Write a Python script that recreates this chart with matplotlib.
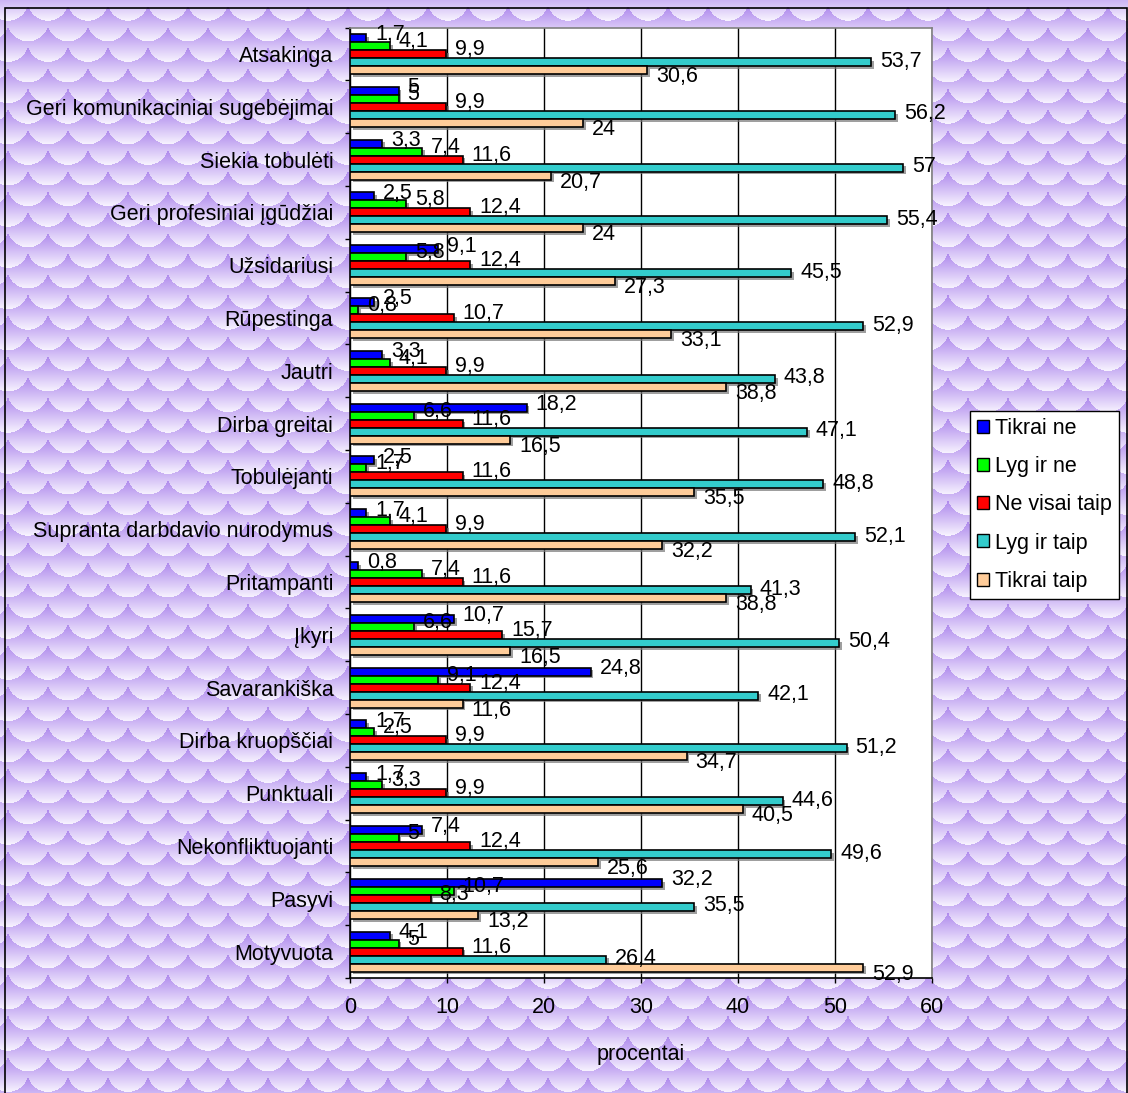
import numpy as np
import matplotlib
matplotlib.use('Agg')
import matplotlib.pyplot as plt
from matplotlib.patches import Patch, Rectangle
from matplotlib import patheffects

plt.rcParams['font.family'] = ['Liberation Sans', 'DejaVu Sans']

categories = ['Atsakinga', 'Geri komunikaciniai sugebėjimai', 'Siekia tobulėti',
              'Geri profesiniai įgūdžiai', 'Užsidariusi', 'Rūpestinga', 'Jautri',
              'Dirba greitai', 'Tobulėjanti', 'Supranta darbdavio nurodymus',
              'Pritampanti', 'Įkyri', 'Savarankiška', 'Dirba kruopščiai',
              'Punktuali', 'Nekonfliktuojanti', 'Pasyvi', 'Motyvuota']

tikrai_ne = [1.7, 5, 3.3, 2.5, 9.1, 2.5, 3.3, 18.2, 2.5, 1.7, 0.8, 10.7, 24.8, 1.7, 1.7, 7.4, 32.2, 4.1]
lyg_ir_ne = [4.1, 5, 7.4, 5.8, 5.8, 0.8, 4.1, 6.6, 1.7, 4.1, 7.4, 6.6, 9.1, 2.5, 3.3, 5, 10.7, 5]
ne_visai_taip = [9.9, 9.9, 11.6, 12.4, 12.4, 10.7, 9.9, 11.6, 11.6, 9.9, 11.6, 15.7, 12.4, 9.9, 9.9, 12.4, 8.3, 11.6]
lyg_ir_taip = [53.7, 56.2, 57, 55.4, 45.5, 52.9, 43.8, 47.1, 48.8, 52.1, 41.3, 50.4, 42.1, 51.2, 44.6, 49.6, 35.5, 26.4]
tikrai_taip = [30.6, 24, 20.7, 24, 27.3, 33.1, 38.8, 16.5, 35.5, 32.2, 38.8, 16.5, 11.6, 34.7, 40.5, 25.6, 13.2, 52.9]

series_names = ['Tikrai ne', 'Lyg ir ne', 'Ne visai taip', 'Lyg ir taip', 'Tikrai taip']
series = [tikrai_ne, lyg_ir_ne, ne_visai_taip, lyg_ir_taip, tikrai_taip]
colors = ['#0000ff', '#00ff00', '#ff0000', '#33cccc', '#ffcc99']
# vertical nudge of the value labels per series, pixels
label_dy = [3, 4.5, 4.5, 1, -6.5]

W, H = 1128, 1093
FS = 15.5


# fish-scale texture: rows of discs, upper rows drawn over lower ones,
# each disc shaded from purple at the top to near white at the bottom
def scales(w, h, dx=40.0, dy=20.6, r=20.7):
    yy, xx = np.mgrid[0:h, 0:w] + 0.5
    t = np.full((h, w), np.nan)
    rmin = np.ceil((yy - r) / dy)
    for k in range(3):
        row = rmin + k
        cy = row * dy
        ox = (row % 2) * dx / 2 + 8
        cx = ox + np.round((xx - ox) / dx) * dx
        inside = ((xx - cx) ** 2 + (yy - cy) ** 2 <= r * r) & np.isnan(t)
        t[inside] = ((yy - (cy - r)) / (2 * r))[inside]
    t = np.nan_to_num(t, nan=0.0)
    t = np.clip(t, 0, 1) ** 1.1
    top = np.array([164, 122, 234]) / 255
    bottom = np.array([248, 244, 255]) / 255
    return top + (bottom - top) * t[..., None]


fig = plt.figure(figsize=(W / 100, H / 100), dpi=100)
fig.figimage(scales(W, H), xo=0, yo=0, origin='upper', zorder=-10)
fig.add_artist(Rectangle((5 / W, -0.01), 1122 / W, 1.01 - 8 / H,
                         transform=fig.transFigure, fill=False, ec='black', lw=1.2))

ax = fig.add_axes([350 / W, 1 - 978 / H, 582 / W, 950.4 / H])
ax.set_facecolor('white')

y = np.arange(len(categories))
h = 0.152
shadow = [patheffects.SimplePatchShadow(offset=(2, -2), shadow_rgbFace='#777777', alpha=0.7),
          patheffects.Normal()]
for j, (vals, c) in enumerate(zip(series, colors)):
    pos = y + (j - 2) * h
    bars = ax.barh(pos, vals, height=h, color=c, edgecolor='black', linewidth=1.2, zorder=3)
    for b in bars:
        b.set_path_effects(shadow)
    for v, p in zip(vals, pos):
        ax.annotate(f'{v:g}'.replace('.', ','), (v, p), xytext=(9, label_dy[j]),
                    textcoords='offset pixels', va='center', ha='left',
                    fontsize=FS, zorder=4, annotation_clip=False)

ax.set_xlim(0, 60)
ax.set_ylim(len(categories) - 0.5, -0.5)
ax.set_xticks(range(0, 61, 10))
ax.set_yticks(y)
ax.set_yticklabels(categories)
ax.set_yticks(np.arange(-0.5, len(categories), 1), minor=True)
ax.tick_params(axis='y', which='major', length=0, pad=12, labelsize=FS)
ax.tick_params(axis='y', which='minor', length=3.6, width=1, direction='out')
ax.tick_params(axis='x', length=3.6, width=1, direction='out', pad=10, labelsize=FS)
ax.grid(axis='x', color='black', lw=1, zorder=1)
ax.set_xlabel('procentai', fontsize=FS, labelpad=19)
for s in ('left', 'bottom'):
    ax.spines[s].set_color('black')
    ax.spines[s].set_linewidth(1.2)
for s in ('top', 'right'):
    ax.spines[s].set_color('#808080')
    ax.spines[s].set_linewidth(1.2)

handles = [Patch(facecolor=c, edgecolor='black', lw=1) for c in colors]
leg = ax.legend(handles, series_names, loc='upper left',
                bbox_to_anchor=(970 / W, 1 - 411 / H), bbox_transform=fig.transFigure,
                fontsize=FS, frameon=True, fancybox=False, edgecolor='black',
                framealpha=1, borderaxespad=0, handlelength=0.55, handleheight=0.55,
                handletextpad=0.3, labelspacing=0.8, borderpad=0.32)
leg.get_frame().set_linewidth(1)

fig.savefig('out.png', dpi=100)
